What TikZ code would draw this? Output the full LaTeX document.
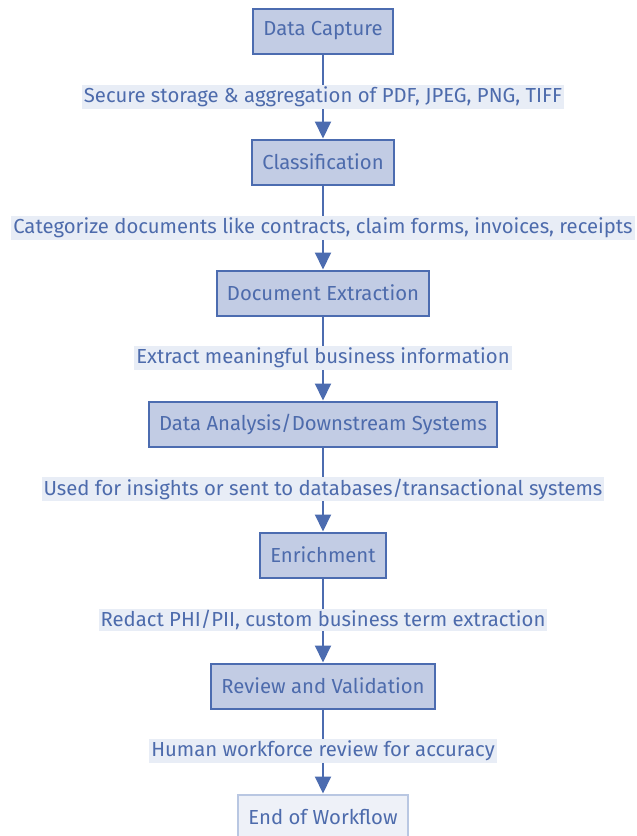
\documentclass[tikz,border=0pt]{standalone}
\usepackage{fontspec}
\setmainfont{Fira Sans}
\usetikzlibrary{arrows.meta}
\definecolor{boxfill}{HTML}{C2CCE4}
\definecolor{boxdraw}{HTML}{4C6CB0}
\definecolor{txt}{HTML}{4D6BAC}
\definecolor{lblbg}{HTML}{E8EDF6}
\definecolor{endfill}{HTML}{EEF1F8}
\definecolor{enddraw}{HTML}{B9C7E2}
\tikzset{
  stepbox/.style={draw=boxdraw, fill=boxfill, line width=2pt, text=txt, font=\fontsize{20.3}{24}\selectfont, minimum height=45pt, inner xsep=10pt},
  endbox/.style={stepbox, draw=enddraw, fill=endfill},
  lbl/.style={fill=lblbg, text=txt, font=\fontsize{20.3}{24}\selectfont, inner xsep=2pt, inner ysep=1.5pt},
  conn/.style={draw=boxdraw, line width=2pt, -{Triangle[length=17pt,width=16pt]}}
}
\begin{document}
\begin{tikzpicture}[x=1pt,y=-1pt]
\useasboundingbox[fill=white] (0,0) rectangle (637,836);
\clip (0,0) rectangle (637,836);
\node[stepbox] (n1) at (323,31) {Data Capture};
\node[stepbox] (n2) at (323,162) {Classification};
\node[stepbox] (n3) at (323,293) {Document Extraction};
\node[stepbox] (n4) at (323,424) {Data Analysis/Downstream Systems};
\node[stepbox] (n5) at (323,555) {Enrichment};
\node[stepbox] (n6) at (323,686) {Review and Validation};
\node[endbox] (n7) at (323,817) {End of Workflow};
\draw[conn] (n1) -- (n2);
\draw[conn] (n2) -- (n3);
\draw[conn] (n3) -- (n4);
\draw[conn] (n4) -- (n5);
\draw[conn] (n5) -- (n6);
\draw[conn] (n6) -- (n7);
\node[lbl] (l1) at (323,97) {Secure storage \& aggregation of PDF, JPEG, PNG, TIFF};
\node[lbl] (l2) at (323,228) {Categorize documents like contracts, claim forms, invoices, receipts};
\node[lbl] (l3) at (323,358) {Extract meaningful business information};
\node[lbl] (l4) at (323,489) {Used for insights or sent to databases/transactional systems};
\node[lbl] (l5) at (323,620) {Redact PHI/PII, custom business term extraction};
\node[lbl] (l6) at (323,751) {Human workforce review for accuracy};
\end{tikzpicture}
\end{document}
